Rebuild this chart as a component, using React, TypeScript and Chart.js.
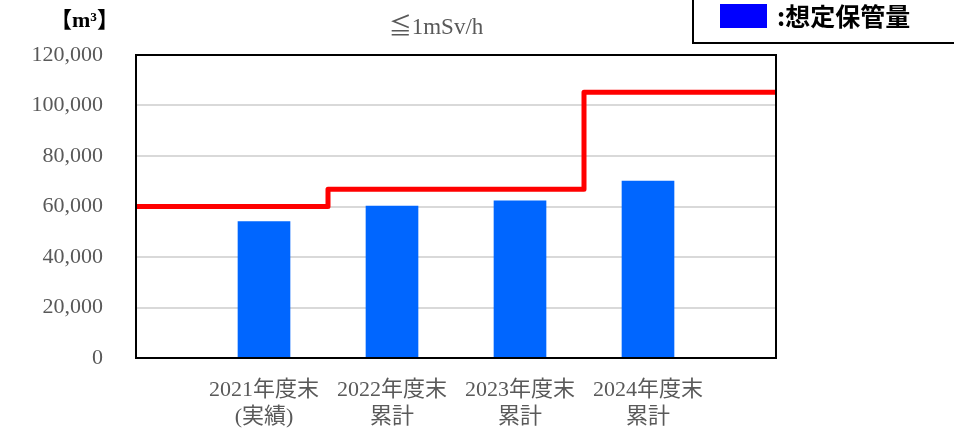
import React, { useEffect, useRef } from "react";
import { Chart, registerables } from "chart.js";

Chart.register(...registerables);

// Data
const categoryPositions = [1, 2, 3, 4];
const categoryLabels: string[][] = [
  ["2021年度末", "(実績)"],
  ["2022年度末", "累計"],
  ["2023年度末", "累計"],
  ["2024年度末", "累計"],
];
const storageValues = [54000, 60200, 62200, 70100];
const capacityBreaks = [0, 1.5, 3.5, 5];
const capacityValues = [60000, 66800, 105200, 105200];
const yTicksMax = 120000;
const yTicksStep = 20000;
const chartTitle = "≦1mSv/h";
const unitLabel = "【m³】";
const legendLabel = ":想定保管量";

const serif = "'Liberation Serif', 'Noto Sans CJK JP', serif";
const sans = "'Noto Sans CJK JP', 'Noto Sans', sans-serif";

const decorPlugin = {
  id: "decor",
  afterDatasetsDraw(chart: any) {
    const { ctx, chartArea } = chart;
    ctx.save();
    ctx.strokeStyle = "#000000";
    ctx.lineWidth = 2;
    ctx.strokeRect(chartArea.left, chartArea.top, chartArea.right - chartArea.left, chartArea.bottom - chartArea.top);
    ctx.restore();
  },
  afterDraw(chart: any) {
    const { ctx } = chart;
    ctx.save();
    // unit
    ctx.fillStyle = "#000000";
    ctx.font = `bold 22px ${serif}`;
    ctx.textAlign = "left";
    ctx.textBaseline = "middle";
    ctx.fillText(unitLabel, 50, 21);
    // title
    ctx.fillStyle = "#595959";
    ctx.font = `23px ${serif}`;
    ctx.textAlign = "center";
    ctx.fillText(chartTitle, 436, 28);
    // legend box
    ctx.fillStyle = "#ffffff";
    ctx.fillRect(693, -5, 270, 48);
    ctx.strokeStyle = "#000000";
    ctx.lineWidth = 2;
    ctx.strokeRect(693, -5, 270, 48);
    ctx.fillStyle = "#0000FF";
    ctx.fillRect(720, 4, 47, 24);
    ctx.fillStyle = "#000000";
    ctx.font = `bold 25px ${sans}`;
    ctx.textAlign = "left";
    ctx.fillText(legendLabel, 777, 16);
    ctx.restore();
  },
};

export default function App() {
  const canvasRef = useRef<HTMLCanvasElement | null>(null);

  useEffect(() => {
    if (!canvasRef.current) return;
    const chart = new Chart(canvasRef.current, {
      type: "bar",
      data: {
        datasets: [
          {
            type: "line",
            label: "capacity",
            data: capacityBreaks.map((x, i) => ({ x, y: capacityValues[i] })),
            borderColor: "#FF0000",
            borderWidth: 5,
            pointRadius: 0,
            stepped: "before",
            fill: false,
            borderJoinStyle: "round",
            order: 0,
          } as any,
          {
            type: "bar",
            label: legendLabel,
            data: categoryPositions.map((x, i) => ({ x, y: storageValues[i] })),
            backgroundColor: "#0066FF",
            barThickness: 52,
            order: 1,
          } as any,
        ],
      },
      options: {
        responsive: false,
        animation: false,
        layout: { padding: { left: 0, right: 178, top: 55, bottom: 0 } },
        plugins: {
          legend: { display: false },
          tooltip: { enabled: false },
          title: { display: false },
        },
        scales: {
          x: {
            type: "linear",
            min: 0,
            max: 5,
            offset: false,
            grid: { display: false, drawTicks: false, offset: false },
            border: { display: false },
            afterFit: (scale: any) => {
              scale.height = 73;
            },
            ticks: {
              stepSize: 1,
              autoSkip: false,
              maxRotation: 0,
              padding: 18,
              color: "#595959",
              font: { family: serif, size: 22, lineHeight: 1.25 },
              callback: (value: any) => {
                const idx = categoryPositions.indexOf(Number(value));
                return idx >= 0 ? categoryLabels[idx] : "";
              },
            },
          },
          y: {
            min: 0,
            max: yTicksMax,
            grid: { color: "#D9D9D9", lineWidth: 2, drawTicks: false },
            border: { display: false },
            afterFit: (scale: any) => {
              scale.width = 136;
            },
            ticks: {
              stepSize: yTicksStep,
              padding: 33,
              color: "#595959",
              font: { family: serif, size: 22 },
              callback: (value: any) => Number(value).toLocaleString("en-US"),
            },
          },
        },
      },
      plugins: [decorPlugin],
    });
    return () => chart.destroy();
  }, []);

  return (
    <div style={{ position: "fixed", left: 0, top: 0, width: 954, height: 431, background: "#fff" }}>
      <canvas ref={canvasRef} width={954} height={431} />
    </div>
  );
}
